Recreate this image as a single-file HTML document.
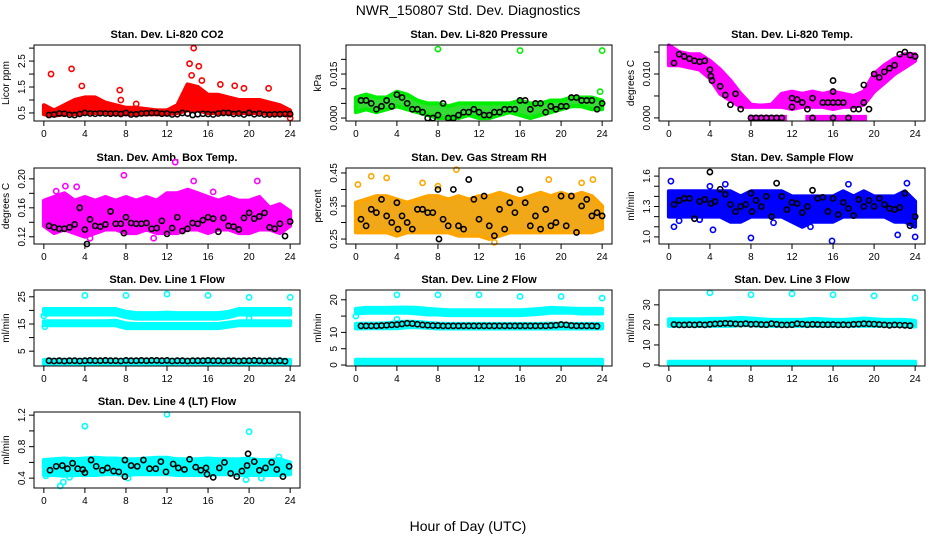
<!DOCTYPE html>
<html><head><meta charset="utf-8"><style>
body{margin:0;background:#fff;width:936px;height:540px;overflow:hidden}
svg{display:block;font-family:"Liberation Sans",Arial,sans-serif}
</style></head><body>
<svg id="chart" width="936" height="540">
<text x="468" y="15" text-anchor="middle" font-size="14">NWR_150807  Std. Dev. Diagnostics</text>
<text x="468" y="531" text-anchor="middle" font-size="14">Hour of Day (UTC)</text>
</svg>
<script>
const HOURS=[0,1,2,3,4,5,6,7,8,9,10,11,12,13,14,15,16,17,18,19,20,21,22,23,24];
const XTICKS=[0,4,8,12,16,20,24];
// Panel 1 CO2
const co2Lo=[0.45,0.4,0.45,0.45,0.5,0.5,0.5,0.45,0.45,0.45,0.45,0.45,0.45,0.5,0.6,0.6,0.5,0.5,0.5,0.5,0.5,0.5,0.45,0.45,0.4];
const co2Hi=[0.8,0.6,0.8,1.0,1.1,1.1,0.9,0.8,0.7,0.7,0.65,0.6,0.6,0.8,1.6,1.5,1.2,1.2,1.1,1.0,1.0,1.0,0.9,0.8,0.6];
const co2OutX=[0.7,2.7,3.7,7.4,7.5,14.6,14.2,15.1,14.4,15.4,18.6,19.5,21.9,9.0,17.2,24];
const co2OutY=[2.0,2.2,1.54,1.38,1.0,3.0,2.4,2.3,1.95,1.75,1.55,1.45,1.45,0.85,1.6,0.3];
const co2BlkX=[0.5,1,1.5,2,2.5,3,3.5,4,4.5,5,5.5,6,6.5,7,7.5,8,8.5,9,9.5,10,10.5,11,11.5,12,12.5,13,13.5,14,14.5,15,15.5,16,16.5,17,17.5,18,18.5,19,19.5,20,20.5,21,21.5,22,22.5,23,23.5,24];
const co2BlkY=[0.42,0.44,0.48,0.47,0.43,0.42,0.46,0.5,0.48,0.47,0.49,0.48,0.47,0.48,0.46,0.5,0.44,0.45,0.48,0.49,0.5,0.5,0.47,0.48,0.44,0.45,0.5,0.48,0.42,0.45,0.47,0.46,0.44,0.48,0.5,0.5,0.46,0.48,0.44,0.5,0.45,0.48,0.44,0.44,0.45,0.45,0.46,0.46];
// Panel 2 Pressure
const prLo=[0.002,0.003,0.002,0.003,0.004,0.003,0.002,0.001,0,0,0,0.001,0,0,0.001,0.002,0.001,0,0.001,0.002,0.003,0.004,0.004,0.003,0.003];
const prHi=[0.007,0.008,0.007,0.007,0.009,0.008,0.006,0.005,0.005,0.004,0.005,0.005,0.005,0.005,0.005,0.005,0.006,0.005,0.005,0.006,0.006,0.007,0.007,0.007,0.006];
const prOutX=[8,16,24,23.8];
const prOutY=[0.0235,0.023,0.023,0.009];
const prBlkX=co2BlkX;
const prBlkY=[0.006,0.006,0.005,0.003,0.004,0.006,0.004,0.008,0.007,0.005,0.003,0.003,0.002,0,0,0.001,0.005,0,0,0.001,0.002,0.002,0.003,0.002,0.001,0.001,0.002,0.002,0.003,0.003,0.003,0.006,0.006,0.003,0.005,0.005,0.002,0.004,0.003,0.004,0.004,0.007,0.007,0.006,0.006,0.006,0.003,0.005];
// Panel 3 Temp
const tpLo=[0.012,0.012,0.0115,0.011,0.009,0.0055,0.004,0.0025,0.0025,0.0025,0.0025,0.0025,0.002,0.0025,0.0025,0.0025,0.002,0.0025,0.0025,0.003,0.006,0.008,0.01,0.0115,0.013];
const tpHi=[0.0165,0.015,0.0145,0.0145,0.013,0.011,0.0085,0.0055,0.003,0.0028,0.003,0.0055,0.006,0.0055,0.006,0.0055,0.006,0.0055,0.005,0.006,0.01,0.012,0.0135,0.0145,0.0145];
const tpZeroStart=[7.8,13.3];
const tpZeroEnd=[11.5,19.3];
const tpBlkX=[0.5,1,1.5,2,2.5,3,3.5,4,4.1,4.2,5,5.5,6,6.5,7,8,9,10,11,12,12,12.5,13,13.5,14,15,15.5,16,16,16,16.5,17,18,18.5,19,19.5,19,20,20.5,21,21.5,22,22.5,23,23.5,24,8.5,9.5,10.5,14,16,17.5];
const tpBlkY=[0.0125,0.0145,0.014,0.0135,0.013,0.0128,0.013,0.011,0.0095,0.0085,0.0072,0.0052,0.003,0.0055,0.002,0,0,0,0,0.0045,0.0025,0.0042,0.0035,0.002,0.0045,0.0035,0.0035,0.0035,0.006,0.0085,0.0035,0.0035,0.002,0.002,0.0035,0.002,0.0075,0.01,0.0092,0.0105,0.0113,0.012,0.0145,0.015,0.0143,0.014,0,0,0,0,0,0];
// Panel 4 Amb box temp
const abLo=[0.135,0.125,0.13,0.125,0.12,0.125,0.13,0.13,0.125,0.125,0.13,0.125,0.125,0.125,0.13,0.13,0.125,0.13,0.13,0.125,0.125,0.13,0.13,0.125,0.135];
const abHi=[0.17,0.175,0.18,0.17,0.175,0.17,0.175,0.17,0.175,0.17,0.175,0.17,0.18,0.18,0.185,0.18,0.175,0.17,0.175,0.17,0.17,0.175,0.16,0.165,0.155];
const abOutX=[3.2,7.8,12.8,14.6,20.8,10.7,4.5,2.1,1.2,16.5];
const abOutY=[0.189,0.205,0.223,0.197,0.197,0.118,0.118,0.19,0.183,0.182];
const abBlkX=[0.5,1,1.5,2,2.5,3,3.5,4,4.2,4.5,5,5.5,6,6.5,7,7.5,7.8,8,8.5,9,9.5,10,10.5,11,11.5,12,12.5,13,13.5,14,14.5,15,15.5,16,16.5,17,17.5,18,18.5,19,19.5,20,20.5,21,21.5,22,22.5,23,23.5,24];
const abBlkY=[0.135,0.133,0.131,0.131,0.133,0.137,0.16,0.13,0.11,0.144,0.135,0.134,0.137,0.155,0.138,0.138,0.125,0.147,0.139,0.138,0.138,0.139,0.131,0.132,0.142,0.124,0.132,0.147,0.128,0.131,0.139,0.138,0.143,0.147,0.145,0.127,0.146,0.135,0.134,0.13,0.146,0.153,0.145,0.148,0.153,0.133,0.131,0.138,0.121,0.141];
// Panel 5 RH
const rhLo=[0.27,0.27,0.27,0.27,0.26,0.27,0.27,0.27,0.27,0.27,0.26,0.26,0.26,0.25,0.26,0.27,0.27,0.27,0.27,0.27,0.27,0.27,0.27,0.27,0.28];
const rhHi=[0.36,0.37,0.38,0.38,0.37,0.36,0.37,0.38,0.38,0.37,0.38,0.37,0.38,0.38,0.39,0.38,0.37,0.38,0.39,0.38,0.39,0.38,0.39,0.38,0.35];
const rhOutX=[0.2,1.5,3,8,9.8,18.8,23.1,22,6.5,13.5];
const rhOutY=[0.415,0.44,0.435,0.41,0.46,0.43,0.43,0.42,0.42,0.24];
const rhBlkX=[0.5,1,1.5,2,2.5,3,3.5,4,4.1,4.5,5,5.5,6,6.5,7,7.5,8,8.1,8.5,9,9.5,10,10.5,11,11.5,12,12.5,13,13.5,14,14.5,15,15.5,16,16.5,17,17.5,18,18.5,19,19.5,20,20.5,21,21.5,22,22.5,23,23.5,24];
const rhBlkY=[0.31,0.29,0.34,0.33,0.37,0.32,0.3,0.36,0.28,0.32,0.3,0.28,0.34,0.34,0.33,0.33,0.4,0.25,0.31,0.29,0.4,0.29,0.28,0.43,0.37,0.31,0.38,0.29,0.26,0.34,0.28,0.36,0.33,0.4,0.36,0.29,0.32,0.28,0.34,0.29,0.3,0.38,0.29,0.38,0.27,0.35,0.37,0.32,0.33,0.32];
// Panel 6 Sample flow
const sfLo=[1.2,1.2,1.2,1.2,1.2,1.2,1.15,1.15,1.2,1.2,1.2,1.2,1.15,1.1,1.15,1.15,1.15,1.2,1.2,1.2,1.2,1.2,1.15,1.15,1.1];
const sfHi=[1.45,1.45,1.45,1.45,1.45,1.45,1.45,1.4,1.45,1.45,1.45,1.45,1.4,1.4,1.4,1.4,1.4,1.45,1.4,1.45,1.4,1.4,1.4,1.45,1.35];
const sfOutX=[0.2,0.5,4.3,4,5.5,8,15.9,23.2,24,22.3,13.8,1,3,10.2,17.5];
const sfOutY=[1.55,1.1,1.07,1.5,1.52,0.99,0.96,1.53,1.0,1.02,1.1,1.16,1.17,1.14,1.52];
const sfBlkX=rhBlkX;
const sfBlkY=[1.32,1.36,1.38,1.38,1.18,1.35,1.37,1.64,1.33,1.35,1.47,1.42,1.32,1.25,1.3,1.32,1.43,1.25,1.36,1.3,1.4,1.2,1.53,1.4,1.27,1.34,1.33,1.24,1.3,1.46,1.38,1.39,1.25,1.38,1.22,1.34,1.28,1.21,1.37,1.3,1.36,1.3,1.38,1.32,1.28,1.27,1.29,1.43,1.11,1.2];
// Panel 7 Line 1
const l1ALo=[18.5,18.5,18.5,18.5,18.5,18.5,18.5,18.5,17.5,17,17,17,17,17,17,17,17,17,17.5,18.5,18.5,18.5,18.5,18.5,18.5];
const l1AHi=[20.5,20.5,20.5,20.5,20.5,20.5,20.5,20.5,19.5,19,19,19,19.2,19,19,19,19,19,19.5,20.5,20.5,20.5,20.5,20.5,20.5];
const l1BLo=[14.5,14.5,14.5,14.5,14.5,14.5,14.5,14.5,13.5,13.5,13.5,13.5,13.5,13.5,13.5,13.5,13.5,13.5,14,14.5,14.5,14.5,14.5,14.5,14.5];
const l1BHi=[16,16,16,16,16,16,16,16.2,15.2,15,15,15,15,15,15,15,15,15,15.5,16,16,16,16,16,16];
const l1CLo=[0.4,0.4,0.4,0.4,0.4,0.4,0.4,0.4,0.4,0.4,0.4,0.4,0.4,0.4,0.4,0.4,0.4,0.4,0.4,0.4,0.4,0.4,0.4,0.4,0.4];
const l1CHi=[1.8,1.8,1.8,1.8,1.8,1.8,1.8,1.8,1.8,1.8,1.8,1.8,1.8,1.8,1.8,1.8,1.8,1.8,1.8,1.8,1.8,1.8,1.8,1.8,1.8];
const l1OutX=[4,8,12,16,20,24,0,0.1,20];
const l1OutY=[25.5,25.5,26,25.5,24.8,24.8,18,14,17];
const l1BlkX=[0.5,1,1.5,2,2.5,3,3.5,4,4.5,5,5.5,6,6.5,7,7.5,8,8.5,9,9.5,10,10.5,11,11.5,12,12.5,13,13.5,14,14.5,15,15.5,16,16.5,17,17.5,18,18.5,19,19.5,20,20.5,21,21.5,22,22.5,23,23.5];
const l1BlkY=[1.5,1.4,1.5,1.4,1.5,1.5,1.4,1.5,1.6,1.5,1.5,1.6,1.5,1.5,1.4,1.6,1.5,1.5,1.6,1.5,1.6,1.6,1.5,1.6,1.4,1.5,1.5,1.4,1.5,1.5,1.5,1.6,1.5,1.5,1.4,1.5,1.5,1.4,1.5,1.5,1.6,1.5,1.4,1.5,1.4,1.5,1.3];
// Panel 8 Line 2
const l2ALo=[15.8,16,16,16,16,16,15.8,15.5,15.5,15.3,15.3,15.3,15.3,15.3,15.3,15.3,15.3,15.5,15.7,16,16,16,15.8,15.8,15.8];
const l2AHi=[17.2,17.5,17.5,17.5,17.6,17.6,17.5,17.2,17,16.8,16.8,16.8,16.8,16.8,16.8,16.8,16.8,17,17.2,17.5,17.4,17.3,17.2,17.2,17.2];
const l2BLo=[11.2,11.3,11.3,11.3,11.3,11.6,11.6,11.4,11.2,11.2,11.2,11.2,11.2,11.2,11.2,11.2,11.2,11.2,11.2,11.2,11.2,11.2,11.2,11.2,11.2];
const l2BHi=[12.6,12.7,12.7,12.8,13.1,13.3,13.2,12.9,12.7,12.6,12.6,12.6,12.6,12.6,12.6,12.6,12.6,12.6,12.6,12.7,12.7,12.6,12.6,12.6,12.6];
const l2CLo=[0.3,0.3,0.3,0.3,0.3,0.3,0.3,0.3,0.3,0.3,0.3,0.3,0.3,0.3,0.3,0.3,0.3,0.3,0.3,0.3,0.3,0.3,0.3,0.3,0.3];
const l2CHi=[1.6,1.6,1.6,1.6,1.6,1.6,1.6,1.6,1.6,1.6,1.6,1.6,1.6,1.6,1.6,1.6,1.6,1.6,1.6,1.6,1.6,1.6,1.6,1.6,1.6];
const l2OutX=[4,8,12,16,20,24,0,4];
const l2OutY=[21.5,21.5,21.5,21,21,20.5,15,14];
const l2BlkX=l1BlkX;
const l2BlkY=[12,12,12,12,12.1,12.2,12.3,12.4,12.6,12.8,12.7,12.5,12.3,12.2,12.1,12.1,12,12,12,12,12,12,12,12,12,12,12,12,12,12,12,12,12,12,12,12,12,12.1,12.2,12.4,12.3,12.1,12,12,12,12,11.9];
// Panel 9 Line 3
const l3ALo=[19.5,19.5,19.5,19.5,19.5,19.5,19.5,19.8,19.8,19.5,19.5,19.5,19.5,19.5,19.5,19.5,19.5,19.5,19.5,19.5,19.5,19.5,19.5,19.5,19.2];
const l3AHi=[22.8,22.8,22.8,22.8,23,23,23.2,23.5,23.2,22.8,22.5,22.5,22.5,22.5,23,22.8,22.5,22.5,22.8,23.2,22.8,22.5,22.5,22.5,22];
const l3CLo=l2CLo;
const l3CHi=l2CHi;
const l3OutX=[4,8,12,16,20,24];
const l3OutY=[36,35,35.5,35,34.5,33.5];
const l3BlkX=l1BlkX;
const l3BlkY=[20.2,20,20,20.1,20,20.2,20,20.3,20.5,20.6,20.8,20.7,20.5,20.4,20.6,20.3,20.4,20.2,20.1,20.6,20.3,20,20,20.1,20.6,20.4,20.1,20.3,20.2,20.1,20.1,20.2,20,20.1,20,20.3,20.4,20.6,20.5,20.4,20.2,20,19.8,20,19.9,19.8,19.6];
// Panel 10 Line 4
const l4Lo=[0.44,0.44,0.43,0.44,0.44,0.44,0.45,0.45,0.44,0.45,0.45,0.45,0.45,0.44,0.44,0.44,0.44,0.45,0.45,0.44,0.44,0.44,0.44,0.44,0.45];
const l4Hi=[0.63,0.64,0.65,0.64,0.65,0.66,0.65,0.65,0.64,0.64,0.65,0.66,0.66,0.64,0.64,0.64,0.65,0.64,0.64,0.64,0.65,0.63,0.63,0.64,0.6];
const l4OutX=[4,12,20,1.6,1.9,19.7,22.9,0.2,2.5,8.2,21.2];
const l4OutY=[1.06,1.21,0.99,0.3,0.35,0.38,0.67,0.43,0.41,0.4,0.4];
const l4BlkX=[0.6,1.2,1.8,2.3,2.8,3.3,3.8,4.0,4.6,5.1,5.7,6.2,6.8,7.3,7.9,7.9,8.5,9.1,9.7,10.3,10.9,11.4,11.9,12.6,13.1,13.7,14.2,14.8,15.3,15.9,15.8,16.5,17.1,17.6,18.2,18.8,19.3,19.9,19.8,20.5,21.0,21.6,22.2,22.7,23.3,23.9];
const l4BlkY=[0.50,0.55,0.56,0.52,0.59,0.52,0.51,0.47,0.63,0.55,0.50,0.53,0.49,0.48,0.42,0.63,0.56,0.55,0.63,0.52,0.52,0.61,0.48,0.58,0.53,0.51,0.64,0.54,0.50,0.45,0.53,0.41,0.53,0.60,0.46,0.42,0.49,0.71,0.56,0.61,0.50,0.53,0.60,0.51,0.42,0.55];

const NS='http://www.w3.org/2000/svg';
const svg=document.getElementById('chart');
const COLS=[34,346,659], ROWS=[45,168,290,412], W=266, H=76;
function mk(tag,attrs,parent){const e=document.createElementNS(NS,tag);for(const k in attrs)e.setAttribute(k,attrs[k]);parent.appendChild(e);return e;}

function panel(p){
  const L=COLS[p.col],T=ROWS[p.row];
  const g=mk('g',{},svg);
  
  
  const xs=h=>L+(h+0.96)/25.92*W;
  const ys=v=>T+(p.ylim[1]-v)/(p.ylim[1]-p.ylim[0])*H;
  const title=mk('text',{x:L+W/2,y:T-7,'text-anchor':'middle','font-size':11,'font-weight':'bold'},g);
  title.textContent=p.title;
  
  
  const yl=mk('text',{x:0,y:0,'text-anchor':'middle','font-size':10,transform:`translate(${L-25},${T+H/2}) rotate(-90)`},g);
  yl.textContent=p.ylab;
  
  
  const dg=mk('g',{},g);
  
  
  (p.bands||[]).forEach(b=>{
    const pts=[];
    HOURS.forEach((h,i)=>pts.push(xs(h).toFixed(1)+','+ys(b.hi[i]).toFixed(1)));
    for(let i=HOURS.length-1;i>=0;i--)pts.push(xs(HOURS[i]).toFixed(1)+','+ys(b.lo[i]).toFixed(1));
    const poly=mk('polygon',{points:pts.join(' '),fill:p.fill||p.color,stroke:p.color,'stroke-width':4,'stroke-linejoin':'round'},dg);
    
    
  });
  (p.segs||[]).forEach(s=>{
    s.x0.forEach((x0,i)=>{
      const ln=mk('line',{x1:xs(x0),x2:xs(s.x1[i]),y1:ys(s.y),y2:ys(s.y),stroke:p.color,'stroke-width':6},dg);
      
      
    });
  });
  if(p.outX)p.outX.forEach((h,i)=>{
    const c=mk('circle',{cx:xs(h),cy:ys(p.outY[i]),r:2.6,fill:'none',stroke:p.color,'stroke-width':1.6},dg);
    
    
  });
  if(p.blkX)p.blkX.forEach((h,i)=>{
    const c=mk('circle',{cx:xs(h),cy:ys(p.blkY[i]),r:2.6,fill:'none',stroke:'#000','stroke-width':1.6},dg);
    
    
  });
  const box=mk('rect',{x:L,y:T,width:W,height:H,fill:'none',stroke:'#000','stroke-width':1},g);
  
  
  XTICKS.forEach(t=>{
    const x=xs(t);
    mk('line',{x1:x,x2:x,y1:T+H,y2:T+H+5,stroke:'#000'},g);
    const tx=mk('text',{x:x,y:T+H+16,'text-anchor':'middle','font-size':10},g);
    tx.textContent=t;
    
    
  });
  p.yticks.forEach((t,i)=>{
    const y=ys(t);
    mk('line',{x1:L-5,x2:L,y1:y,y2:y,stroke:'#000'},g);
    if(p.ylabels[i]!==''){
      const tx=mk('text',{x:0,y:0,'text-anchor':'middle','font-size':10,transform:`translate(${L-9},${y}) rotate(-90)`},g);
      tx.textContent=p.ylabels[i];
      
      
    }
  });
}

panel({name:'panel-co2',col:0,row:0,title:'Stan. Dev. Li-820 CO2',ylab:'Licor ppm',color:'#ff0000',ylim:[0.19,3.12],yticks:[0.5,1,1.5,2,2.5,3],ylabels:['0.5','','1.5','','2.5',''],bands:[{lo:co2Lo,hi:co2Hi}],outX:co2OutX,outY:co2OutY,blkX:co2BlkX,blkY:co2BlkY});
panel({name:'panel-pressure',col:1,row:0,title:'Stan. Dev. Li-820 Pressure',ylab:'kPa',color:'#00ee00',fill:'#33dd33',ylim:[-0.001,0.0249],yticks:[0,0.005,0.01,0.015,0.02],ylabels:['0.000','','','0.015',''],bands:[{lo:prLo,hi:prHi}],outX:prOutX,outY:prOutY,blkX:prBlkX,blkY:prBlkY});
panel({name:'panel-temp',col:2,row:0,title:'Stan. Dev. Li-820 Temp.',ylab:'degrees C',color:'#ff00ff',ylim:[-0.0007,0.0166],yticks:[0,0.005,0.01,0.015],ylabels:['0.000','','0.010',''],bands:[{lo:tpLo,hi:tpHi}],segs:[{x0:tpZeroStart,x1:tpZeroEnd,y:0}],blkX:tpBlkX,blkY:tpBlkY});
panel({name:'panel-amb-box-temp',col:0,row:1,title:'Stan. Dev. Amb. Box Temp.',ylab:'degrees C',color:'#ff00ff',ylim:[0.110,0.215],yticks:[0.12,0.14,0.16,0.18,0.2],ylabels:['0.12','','0.16','','0.20'],bands:[{lo:abLo,hi:abHi}],outX:abOutX,outY:abOutY,blkX:abBlkX,blkY:abBlkY});
panel({name:'panel-gas-rh',col:1,row:1,title:'Stan. Dev. Gas Stream RH',ylab:'percent',color:'#ffa500',fill:'#f0a818',ylim:[0.235,0.465],yticks:[0.25,0.3,0.35,0.4,0.45],ylabels:['0.25','','0.35','','0.45'],bands:[{lo:rhLo,hi:rhHi}],outX:rhOutX,outY:rhOutY,blkX:rhBlkX,blkY:rhBlkY});
panel({name:'panel-sample-flow',col:2,row:1,title:'Stan. Dev. Sample Flow',ylab:'ml/min',color:'#0000ff',ylim:[0.93,1.68],yticks:[1.0,1.1,1.2,1.3,1.4,1.5,1.6],ylabels:['1.0','','','1.3','','','1.6'],bands:[{lo:sfLo,hi:sfHi}],outX:sfOutX,outY:sfOutY,blkX:sfBlkX,blkY:sfBlkY});
panel({name:'panel-line1-flow',col:0,row:2,title:'Stan. Dev. Line 1 Flow',ylab:'ml/min',color:'#00ffff',ylim:[-0.45,27.5],yticks:[5,10,15,20,25],ylabels:['5','','15','','25'],bands:[{lo:l1ALo,hi:l1AHi},{lo:l1BLo,hi:l1BHi},{lo:l1CLo,hi:l1CHi}],outX:l1OutX,outY:l1OutY,blkX:l1BlkX,blkY:l1BlkY});
panel({name:'panel-line2-flow',col:1,row:2,title:'Stan. Dev. Line 2 Flow',ylab:'ml/min',color:'#00ffff',ylim:[-0.3,23],yticks:[0,5,10,15,20],ylabels:['0','5','10','','20'],bands:[{lo:l2ALo,hi:l2AHi},{lo:l2BLo,hi:l2BHi},{lo:l2CLo,hi:l2CHi}],outX:l2OutX,outY:l2OutY,blkX:l2BlkX,blkY:l2BlkY});
panel({name:'panel-line3-flow',col:2,row:2,title:'Stan. Dev. Line 3 Flow',ylab:'ml/min',color:'#00ffff',ylim:[-0.5,37.4],yticks:[0,10,20,30],ylabels:['0','10','20','30'],bands:[{lo:l3ALo,hi:l3AHi},{lo:l3CLo,hi:l3CHi}],outX:l3OutX,outY:l3OutY,blkX:l3BlkX,blkY:l3BlkY});
panel({name:'panel-line4-flow',col:0,row:3,title:'Stan. Dev. Line 4 (LT) Flow',ylab:'ml/min',color:'#00ffff',ylim:[0.275,1.24],yticks:[0.4,0.6,0.8,1.0,1.2],ylabels:['0.4','','0.8','','1.2'],bands:[{lo:l4Lo,hi:l4Hi}],outX:l4OutX,outY:l4OutY,blkX:l4BlkX,blkY:l4BlkY});
</script>
</body></html>
